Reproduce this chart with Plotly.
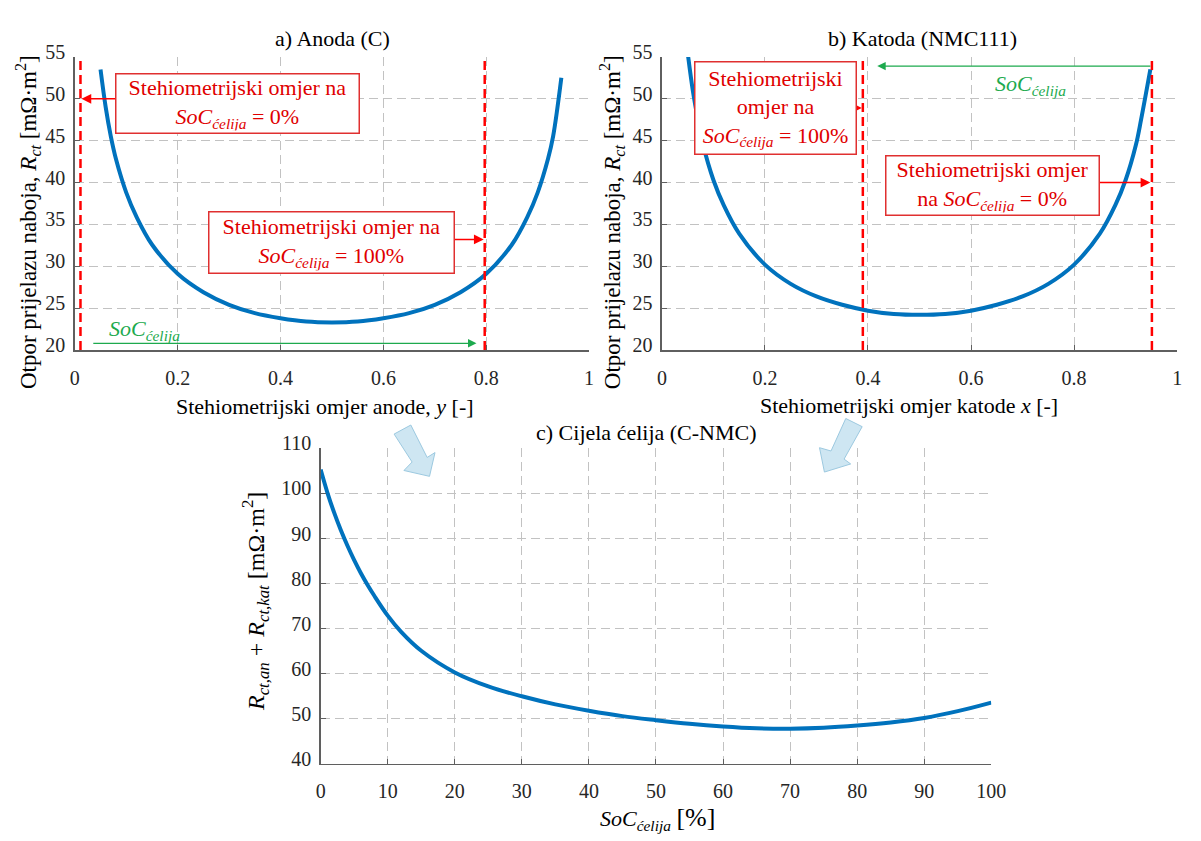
import plotly.graph_objects as go

# ---------------- data ----------------
anode_y = [0.05, 0.06, 0.07, 0.08, 0.10, 0.12, 0.15, 0.20, 0.25, 0.30, 0.35, 0.40, 0.45, 0.50,
           0.55, 0.60, 0.65, 0.70, 0.75, 0.80, 0.85, 0.88, 0.90, 0.92, 0.93, 0.946]
anode_rct = [53.5, 49.0, 45.5, 42.8, 38.8, 35.9, 32.6, 29.1, 26.9, 25.4, 24.4, 23.8, 23.4, 23.3,
             23.4, 23.8, 24.4, 25.4, 26.9, 29.1, 32.6, 35.9, 38.8, 42.8, 45.5, 52.5]

cathode_x = [0.048, 0.06, 0.07, 0.08, 0.10, 0.12, 0.15, 0.20, 0.25, 0.30, 0.35, 0.40, 0.45, 0.50,
             0.55, 0.60, 0.65, 0.70, 0.75, 0.80, 0.85, 0.88, 0.90, 0.92, 0.93, 0.948]
cathode_rct = [56.5, 51.0, 47.5, 44.5, 40.3, 37.3, 33.9, 30.2, 27.9, 26.4, 25.4, 24.7, 24.3, 24.2,
               24.3, 24.7, 25.4, 26.4, 27.9, 30.2, 33.9, 37.3, 40.3, 44.5, 47.5, 53.5]

soc = [0, 1, 2, 3, 4, 5, 6, 7, 8, 10, 12, 15, 20, 25, 30, 35, 40, 45, 50, 55, 60, 65, 70,
       75, 80, 85, 90, 95, 100]
cell_rct = [105.3, 100.2, 95.8, 91.9, 88.4, 85.2, 82.3, 79.7, 77.3, 72.9, 69.3, 65.1, 60.3, 57.2,
            55.0, 53.2, 51.8, 50.6, 49.7, 48.9, 48.3, 47.9, 47.8, 48.0, 48.5, 49.2, 50.2, 51.7, 53.6]

anode_limits = [0.011, 0.797]      # stoichiometry at SoC 0% / 100%
cathode_limits = [0.39, 0.951]     # stoichiometry at SoC 100% / 0%
rct_range = [20, 55]

W, H = 1201, 841
SERIF = '"Liberation Serif", "Times New Roman", Times, "DejaVu Serif", serif'
BLUE = "#0072BD"
RED = "#FF0000"
GREEN = "#1DAA4E"
AXC = "#5f5f5f"
TXT = "#262626"


def px(x):
    return x / W


def py(y):
    return 1 - y / H


fig = go.Figure()

# panel a
fig.add_trace(go.Scatter(x=anode_y, y=anode_rct, mode="lines", line=dict(color=BLUE, width=4, shape="spline"),
                         xaxis="x", yaxis="y"))
for v in anode_limits:
    fig.add_trace(go.Scatter(x=[v, v], y=rct_range, mode="lines", line=dict(color=RED, width=2.5, dash="9px,5px"),
                             xaxis="x", yaxis="y"))
# panel b
fig.add_trace(go.Scatter(x=cathode_x, y=cathode_rct, mode="lines", line=dict(color=BLUE, width=4, shape="spline"),
                         xaxis="x2", yaxis="y2"))
for v in cathode_limits:
    fig.add_trace(go.Scatter(x=[v, v], y=rct_range, mode="lines", line=dict(color=RED, width=2.5, dash="9px,5px"),
                             xaxis="x2", yaxis="y2"))
# panel c
fig.add_trace(go.Scatter(x=soc, y=cell_rct, mode="lines", line=dict(color=BLUE, width=4, shape="spline"),
                         xaxis="x3", yaxis="y3"))


def axis(domain, rng, dtick, anchor, ylike=False):
    d = dict(domain=domain, range=rng, dtick=dtick, tick0=rng[0], anchor=anchor,
             showline=True, linecolor=AXC, linewidth=1.5, mirror=False,
             ticks="inside", ticklen=5, tickcolor=AXC, tickwidth=1,
             showgrid=True, gridcolor="#c2c2c2", griddash="9px,5px", gridwidth=1,
             zeroline=False, fixedrange=True,
             tickfont=dict(family=SERIF, size=20, color=TXT))
    if ylike:
        d.update(ticklabelstandoff=4, ticklabelshift=-5)
    else:
        d.update(ticklabelstandoff=9)
    return d


ya_dom = [py(343), py(42)]
fig.update_layout(
    width=W, height=H, margin=dict(l=0, r=0, t=0, b=0),
    paper_bgcolor="white", plot_bgcolor="white", showlegend=False,
    xaxis=axis([px(71), px(594)], [0, 1], 0.2, "y"),
    yaxis=axis(ya_dom, rct_range, 5, "x", True),
    xaxis2=axis([px(668), px(1192)], [0, 1], 0.2, "y2"),
    yaxis2=axis(ya_dom, rct_range, 5, "x2", True),
    xaxis3=axis([px(321), px(1003)], [0, 100], 10, "y3"),
    yaxis3=axis([py(768), py(444)], [40, 110], 10, "x3", True),
)

SOC = "<i>SoC</i><sub><i>ćelija</i></sub>"
ann = []


def txt(x, y, text, size=22, angle=0, color="black"):
    ann.append(dict(x=x, y=y, xref="paper", yref="paper", text=text, showarrow=False,
                    xanchor="center", yanchor="middle", textangle=angle,
                    font=dict(family=SERIF, size=size, color=color)))


# titles & axis titles
txt(px(333), py(23), "a) Anoda (C)")
txt(px(933), py(23), "b) Katoda (NMC111)")
txt(px(652), py(428), "c) Cijela ćelija (C-NMC)")
txt(px(325), py(401), "Stehiometrijski omjer anode, <i>y</i> [-]")
txt(px(919), py(400), "Stehiometrijski omjer katode <i>x</i> [-]")
ylab = "Otpor prijelazu naboja, <i>R</i><sub><i>ct</i></sub> [mΩ·m<sup>2</sup>]"
txt(px(23), py(212), ylab, size=23, angle=-90)
txt(px(617), py(212), ylab, size=23, angle=-90)
txt(px(255), py(601),
    "<i>R</i><sub><i>ct,an</i></sub> + <i>R</i><sub><i>ct,kat</i></sub> [mΩ·m<sup>2</sup>]", size=24, angle=-90)
txt(px(664), py(824), SOC + " <span style='font-size:26px'>[%]</span>")


def arrow(xr, yr, x_tail, x_head, yv, color, head=2, size=1.3, width=1.5):
    ann.append(dict(xref=xr, yref=yr, axref=xr, ayref=yr, x=x_head, y=yv, ax=x_tail, ay=yv,
                    text="", showarrow=True, arrowhead=head, arrowsize=size, arrowwidth=width,
                    arrowcolor=color, standoff=0, startstandoff=0))


def box(xr, yr, x, y, text, w, h):
    ann.append(dict(xref=xr, yref=yr, x=x, y=y, text=text, showarrow=False,
                    xanchor="center", yanchor="middle", width=w, height=h, align="center",
                    bgcolor="white", bordercolor="#E03030", borderwidth=1.5, borderpad=2,
                    font=dict(family=SERIF, size=22, color="#E00000")))


# panel a annotations
arrow("x", "y", 0.082, 0.013, 50.0, RED)
arrow("x", "y", 0.733, 0.795, 33.2, RED)
arrow("x", "y", 0.033, 0.781, 20.8, GREEN, width=1.3)
box("x", "y", 0.3155, 49.45, "Stehiometrijski omjer na<br>" + SOC + " = 0%", 238, 54)
box("x", "y", 0.499, 32.85, "Stehiometrijski omjer na<br>" + SOC + " = 100%", 240, 56)
ann.append(dict(xref="x", yref="y", x=0.135, y=22.4, text=SOC, showarrow=False,
                xanchor="center", yanchor="middle", font=dict(family=SERIF, size=22, color=GREEN)))

# panel b annotations
arrow("x2", "y2", 0.375, 0.388, 48.9, RED)
arrow("x2", "y2", 0.844, 0.948, 40.0, RED)
arrow("x2", "y2", 0.951, 0.418, 53.9, GREEN, width=1.3)
box("x2", "y2", 0.221, 48.95, "Stehiometrijski<br>omjer na<br>" + SOC + " = 100%", 156, 87)
box("x2", "y2", 0.641, 39.65, "Stehiometrijski omjer<br>na " + SOC + " = 0%", 208, 54)
ann.append(dict(xref="x2", yref="y2", x=0.715, y=51.7, text=SOC, showarrow=False,
                xanchor="center", yanchor="middle", font=dict(family=SERIF, size=22, color=GREEN)))

fig.update_layout(annotations=ann)

# light-blue block arrows pointing from the top panels to panel c
arrow1 = [(395.7, 429.3), (412.7, 420), (429.3, 453.3), (437.3, 448.3), (431.7, 472.7), (405.7, 466.7), (414, 458)]
arrow2 = [(855, 413.3), (871.7, 421.7), (853.3, 455), (860, 460), (833.3, 468.3), (828.3, 443.3), (840, 446.7)]
for poly in (arrow1, arrow2):
    path = "M " + " L ".join(f"{px(a):.5f},{py(b):.5f}" for a, b in poly) + " Z"
    fig.add_shape(type="path", path=path, xref="paper", yref="paper",
                  fillcolor="rgba(190,222,238,0.75)", line=dict(color="#9cc9e0", width=1))

# remove the browser's default page margin so the figure fills the window exactly
fig.write_html("out.html", config={"staticPlot": True, "displayModeBar": False},
               post_script="document.body.style.margin='0';document.body.style.overflow='hidden';")
